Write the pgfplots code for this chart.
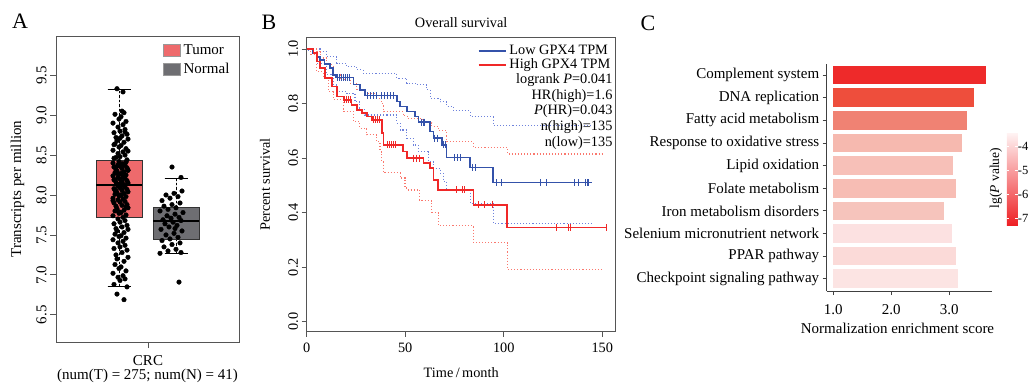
\documentclass[border=0pt]{standalone}
\usepackage{pgfplots}
\pgfplotsset{compat=1.18}
\usepgfplotslibrary{statistics}
\usepackage{fontspec}
\setmainfont{Liberation Serif}
\definecolor{tumorc}{RGB}{238,106,108}
\definecolor{normalc}{RGB}{110,110,114}
\definecolor{framec}{RGB}{85,85,85}
\definecolor{kmblue}{RGB}{52,82,170}
\definecolor{kmred}{RGB}{240,40,40}
\definecolor{ciblue}{RGB}{110,130,220}
\definecolor{cired}{RGB}{250,120,110}
\definecolor{cC}{RGB}{238,42,42}
\definecolor{cD}{RGB}{238,78,60}
\definecolor{cF}{RGB}{240,130,115}
\definecolor{cR}{RGB}{246,185,175}
\definecolor{cL}{RGB}{247,192,184}
\definecolor{cFo}{RGB}{247,189,180}
\definecolor{cI}{RGB}{246,196,188}
\definecolor{cS}{RGB}{252,225,225}
\definecolor{cP}{RGB}{251,218,216}
\definecolor{cK}{RGB}{252,228,227}
\newcommand\fsA{\fontsize{15pt}{17.5pt}\selectfont}
\newcommand\fsB{\fontsize{14.3pt}{15.6pt}\selectfont}
\newcommand\fsC{\fontsize{15pt}{18pt}\selectfont}
\newcommand\fsCb{\fontsize{12.5pt}{14pt}\selectfont}
\newcommand\fsL{\fontsize{22pt}{24pt}\selectfont}
\pgfplotsset{
  boxplot/draw/lower whisker/.code={%
    \draw[black, line width=0.7pt, dash pattern=on 2.5pt off 2pt]
      (boxplot cs:\pgfplotsboxplotvalue{lower quartile}) -- (boxplot cs:\pgfplotsboxplotvalue{lower whisker});
    \draw[black, line width=0.8pt, solid]
      (boxplot whisker cs:\pgfplotsboxplotvalue{lower whisker},0) -- (boxplot whisker cs:\pgfplotsboxplotvalue{lower whisker},1);
  },
  boxplot/draw/upper whisker/.code={%
    \draw[black, line width=0.7pt, dash pattern=on 2.5pt off 2pt]
      (boxplot cs:\pgfplotsboxplotvalue{upper quartile}) -- (boxplot cs:\pgfplotsboxplotvalue{upper whisker});
    \draw[black, line width=0.8pt, solid]
      (boxplot whisker cs:\pgfplotsboxplotvalue{upper whisker},0) -- (boxplot whisker cs:\pgfplotsboxplotvalue{upper whisker},1);
  },
}
\begin{document}
\begin{tikzpicture}[x=1pt,y=1pt]
\useasboundingbox (0,0) rectangle (1032,384);
\node[font=\fsL] at (20,363) {A};
\node[font=\fsL] at (269,362) {B};
\node[font=\fsL] at (648,361) {C};
% ---------------- Panel A
\begin{axis}[
  at={(56pt,348pt)}, anchor=north west, scale only axis,
  width=183pt, height=306pt,
  xmin=56, xmax=239, ymin=6.16, ymax=9.99,
  axis line style={framec, line width=0.8pt},
  tick style={framec, line width=0.8pt},
  tick align=outside, major tick length=6pt,
  xtick={148}, xticklabels={CRC},
  ytick={6.5,7,7.5,8,8.5,9,9.5},
  yticklabels={6.5,7.0,7.5,8.0,8.5,9.0,9.5},
  xtick pos=bottom, ytick pos=left,
  yticklabel style={rotate=90, anchor=south, font=\fsA},
  xticklabel style={font=\fsA, yshift=-4pt},
  ylabel={Transcripts per million},
  ylabel style={font=\fsA, at={(axis description cs:-0.21,0.5)}, anchor=center},
  xlabel={(num(T) = 275; num(N) = 41)},
  xlabel style={font=\fsA, at={(axis description cs:0.5,-0.112)}, anchor=center},
  boxplot/draw direction=y,
  legend image code/.code={\draw[#1] (0pt,-6pt) rectangle (17pt,6pt);},
  legend style={at={(axis description cs:0.585,0.977)}, anchor=north west,
    draw=none, fill=none, inner sep=0pt, font=\fsA, row sep=6pt,
    cells={anchor=west}, nodes={inner ysep=1pt, inner xsep=3pt}},
]
\addlegendimage{fill=tumorc, draw=black!40}
\addlegendentry{Tumor}
\addlegendimage{fill=normalc, draw=black!40}
\addlegendentry{Normal}
\addplot+[mark=none, boxplot prepared={draw position=119, lower whisker=6.85,
  lower quartile=7.725, median=8.125, upper quartile=8.43, upper whisker=9.32,
  box extend=46, whisker extend=23},
  solid, fill=tumorc, draw=black!80, line width=0.7pt,
  boxplot/every median/.style={black, line width=2pt}] coordinates {};
\addplot+[mark=none, boxplot prepared={draw position=176, lower whisker=7.27,
  lower quartile=7.45, median=7.68, upper quartile=7.84, upper whisker=8.21,
  box extend=46, whisker extend=23},
  solid, fill=normalc, draw=black!80, line width=0.7pt,
  boxplot/every median/.style={black, line width=2pt}] coordinates {};
% Tumor points
\addplot[forget plot, only marks, mark=*, mark size=2.3pt, black] table {
x y
124 6.69
117 6.76
127 6.85
114 6.88
120 6.93
125 6.95
118 6.97
123 6.99
113 7.02
126 7.05
119 7.08
121 7.10
115 7.13
124 7.17
117 7.20
128 7.22
116 7.25
122 7.28
127 7.31
114 7.33
120 7.35
125 7.37
118 7.40
123 7.42
113 7.44
126 7.46
119 7.48
121 7.49
115 7.51
124 7.53
117 7.55
128 7.57
116 7.58
122 7.60
127 7.62
114 7.64
120 7.66
125 7.68
118 7.70
123 7.72
113 7.74
126 7.75
119 7.77
121 7.78
115 7.80
124 7.81
117 7.83
128 7.84
116 7.86
122 7.87
127 7.88
114 7.90
120 7.91
125 7.92
118 7.94
123 7.95
113 7.96
126 7.98
119 7.99
121 8.00
115 8.01
124 8.02
117 8.03
128 8.04
116 8.05
122 8.06
127 8.07
114 8.08
120 8.09
125 8.10
118 8.11
123 8.12
113 7.93
126 7.85
119 7.79
121 8.00
115 8.06
124 8.13
117 8.14
128 8.15
116 8.16
122 8.17
127 8.18
114 8.19
120 8.20
125 8.21
118 8.22
123 8.23
113 8.24
126 8.25
119 8.26
121 8.27
115 8.28
124 8.29
117 8.30
128 8.31
116 8.32
122 8.33
127 8.34
114 8.35
120 8.36
125 8.37
118 8.38
123 8.39
113 8.40
126 8.41
119 8.42
121 8.15
115 8.19
124 8.23
117 8.27
128 8.31
116 8.35
122 8.39
127 8.44
114 8.46
120 8.48
125 8.50
118 8.52
123 8.54
113 8.56
126 8.58
119 8.60
121 8.62
115 8.64
124 8.66
117 8.68
128 8.70
116 8.72
122 8.74
127 8.76
114 8.78
120 8.80
125 8.82
118 8.85
123 8.88
113 8.90
126 8.92
119 8.95
121 8.98
115 9.01
124 9.03
117 9.33
123 9.29
122 9.05
116 8.47
128 8.55
114 8.63
120 8.71
125 8.79
};
% Normal points
\addplot[forget plot, only marks, mark=*, mark size=2.3pt, black] table {
x y
179 6.91
160 7.27
181 7.28
168 7.30
176 7.32
164 7.35
172 7.38
180 7.40
162 7.43
170 7.45
178 7.47
166 7.50
174 7.52
182 7.55
161 7.57
169 7.60
177 7.62
165 7.64
173 7.66
181 7.68
163 7.69
171 7.71
179 7.72
167 7.74
175 7.76
183 7.78
160 7.80
168 7.82
176 7.84
164 7.86
172 7.88
180 7.90
162 7.93
170 7.96
178 7.98
166 8.00
174 8.02
182 8.05
181 8.22
172 8.35
175 7.58
};
\end{axis}
% ---------------- Panel B
\begin{axis}[
  at={(306.7pt,346.7pt)}, anchor=north west, scale only axis,
  width=309pt, height=294.4pt,
  xmin=0, xmax=156.8, ymin=-0.037, ymax=1.043,
  axis line style={framec, line width=0.8pt},
  tick style={framec, line width=0.8pt},
  tick align=outside, major tick length=5pt,
  xtick={0,50,100,150}, xticklabels={0,50,100,150},
  ytick={0,0.2,0.4,0.6,0.8,1}, yticklabels={0.0,0.2,0.4,0.6,0.8,1.0},
  xtick pos=bottom, ytick pos=left,
  yticklabel style={rotate=90, anchor=south, font=\fsB},
  xticklabel style={font=\fsB, yshift=-3pt},
  title={Overall survival},
  title style={font=\fsB, at={(axis description cs:0.5,1.031)}, anchor=center},
  ylabel={Percent survival},
  ylabel style={font=\fsB, at={(axis description cs:-0.135,0.5)}, anchor=center},
  xlabel={Time\,/\,month},
  xlabel style={font=\fsB, at={(axis description cs:0.5,-0.139)}, anchor=center},
  legend image code/.code={\draw[#1] (0pt,0pt) -- (27pt,0pt);},
  legend style={at={(axis description cs:0.993,0.977)}, anchor=north east,
    draw=none, fill=none, inner sep=0pt, font=\fsB, row sep=0pt,
    cells={anchor=west}, nodes={inner ysep=1pt, inner xsep=3pt, text height=9pt, text depth=3pt}},
]
% confidence bands (dotted)
\addplot[forget plot, const plot, ciblue, line width=1.1pt, dash pattern=on 1.1pt off 2pt] coordinates {
(0,1.0) (3.4,1.0) (6.8,0.99) (10.2,0.972) (15.2,0.948) (20.3,0.936) (25.4,0.924) (28.7,0.911)
(45.7,0.893) (50.8,0.875) (55.8,0.869) (60.9,0.85) (62.6,0.82) (67.7,0.807) (71.1,0.789)
(74.4,0.773) (82.9,0.752) (94.7,0.72) (144.7,0.72)};
\addplot[forget plot, const plot, ciblue, line width=1.1pt, dash pattern=on 1.1pt off 2pt] coordinates {
(0,1.0) (1,0.99) (5.1,0.948) (10.2,0.905) (13.5,0.869) (15.2,0.844) (20.3,0.838) (24.5,0.807)
(27,0.777) (29.6,0.758) (45.7,0.728) (47.4,0.703) (50.8,0.673) (54.1,0.648) (56.7,0.624)
(61.7,0.587) (64.3,0.563) (67.7,0.545) (69.5,0.514) (71,0.48) (82.9,0.434) (94.7,0.361) (144.7,0.361)};
\addplot[forget plot, const plot, cired, line width=1.1pt, dash pattern=on 1.1pt off 2pt] coordinates {
(0,1.0) (4,1.0) (5.1,0.99) (6.8,0.967) (10.2,0.942) (13.5,0.905) (16.9,0.887) (22,0.875)
(25.4,0.85) (29.6,0.838) (35.5,0.82) (38,0.80) (39,0.77) (47.4,0.77) (49,0.755) (51,0.745)
(57,0.745) (59,0.73) (63.5,0.715) (66.8,0.70) (71,0.66) (84.6,0.64) (101.8,0.615) (150,0.615)};
\addplot[forget plot, const plot, cired, line width=1.1pt, dash pattern=on 1.1pt off 2pt] coordinates {
(0,1.0) (2,0.98) (5.1,0.917) (8.4,0.893) (11,0.844) (13.5,0.814) (18.6,0.771) (23.7,0.734)
(27,0.71) (30.5,0.685) (35.5,0.66) (37.2,0.624) (38,0.587) (38.9,0.546) (47.4,0.527)
(49.9,0.49) (50.8,0.483) (57.4,0.443) (63.5,0.40) (66.8,0.352) (84.6,0.29) (101.8,0.192) (150,0.192)};
% main curves
\addplot[forget plot, const plot, kmblue, line width=1.7pt] coordinates {
(0,1.0) (3,0.985) (5,0.97) (6.8,0.96) (9,0.945) (11.8,0.93) (13.5,0.905) (15,0.895)
(23.7,0.87) (27,0.85) (29.6,0.829) (45.7,0.807) (47.4,0.789) (50.8,0.771) (55,0.752)
(56.7,0.732) (62.6,0.697) (64.3,0.673) (68.5,0.648) (71,0.602) (82.9,0.565) (94.7,0.51) (144.7,0.51)};
\addplot[forget plot, const plot, kmred, line width=1.7pt] coordinates {
(0,1.0) (3.4,0.985) (5.1,0.954) (6.8,0.93) (9.3,0.893) (12.7,0.862) (15.2,0.826) (18.6,0.814)
(22.8,0.795) (25.4,0.777) (27.9,0.765) (30.5,0.752) (33,0.74) (38.1,0.691) (38.9,0.648)
(49,0.624) (50.8,0.6) (59.2,0.581) (62.6,0.563) (64.3,0.52) (66.8,0.483) (84.6,0.428)
(101.8,0.345) (152,0.345)};
% censor marks
\addplot[forget plot, only marks, mark=|, mark size=3.5pt, kmblue, mark options={line width=0.9pt}] coordinates {
(15.8,0.895) (16.8,0.895) (17.8,0.895) (18.8,0.895) (19.8,0.895) (20.8,0.895) (21.8,0.895)
(31,0.829) (32.5,0.829) (34,0.829) (35.5,0.829) (38,0.829) (39.5,0.829) (41,0.829) (42.5,0.829) (43.8,0.829)
(58,0.732) (59,0.732) (60,0.732) (65,0.673) (66.5,0.673) (69.3,0.648) (70.3,0.648)
(75,0.602) (76.5,0.602) (78,0.602) (84.2,0.565) (85.6,0.565)
(96.4,0.51) (99,0.51) (118.8,0.51) (121.5,0.51) (135.9,0.51) (137.9,0.51) (141.3,0.51) (142.3,0.51) (143.2,0.51)};
\addplot[forget plot, only marks, mark=|, mark size=3.5pt, kmred, mark options={line width=0.9pt}] coordinates {
(19.3,0.814) (20.3,0.814) (21.3,0.814) (22.2,0.814)
(34,0.74) (35,0.74) (36,0.74) (37,0.74)
(41,0.648) (42,0.648) (43,0.648) (44,0.648) (45,0.648)
(54,0.6) (55.5,0.6) (57,0.6)
(76,0.483) (79,0.483) (80,0.483)
(87,0.428) (90,0.428) (94,0.428)
(126.5,0.345) (132.8,0.345) (133.7,0.345) (152,0.345)};
\addlegendimage{kmblue, line width=1.7pt}
\addlegendentry{Low GPX4 TPM}
\addlegendimage{kmred, line width=1.7pt}
\addlegendentry{High GPX4 TPM}
\node[anchor=north east, align=right, font=\fsB, inner sep=0pt]
  at (axis description cs:0.99,0.877)
  {logrank \textit{P}=0.041\\HR(high)=1.6\\\textit{P}(HR)=0.043\\n(high)=135\\n(low)=135};
\end{axis}
% ---------------- Panel C
\begin{axis}[
  at={(826.7pt,320pt)}, anchor=north west, scale only axis,
  width=165pt, height=227pt,
  xmin=-0.114, xmax=2.731, ymin=-0.54, ymax=9.49,
  x filter/.expression={x-1},
  axis x line*=bottom, axis y line*=left,
  axis line style={black!75, line width=0.8pt, -},
  tick style={black!75, line width=0.8pt},
  tick align=outside, major tick length=4pt,
  xtick={0,1,2}, xticklabels={1.0,2.0,3.0},
  ytick={0,1,2,3,4,5,6,7,8,9},
  yticklabels={Checkpoint signaling pathway, PPAR pathway, Selenium micronutrient network,
    Iron metabolism disorders, Folate metabolism, Lipid oxidation,
    Response to oxidative stress, Fatty acid metabolism, DNA replication, Complement system},
  yticklabel style={font=\fsC},
  xticklabel style={font=\fsC, yshift=-6pt},
  xlabel={Normalization enrichment score},
  xlabel style={font=\fsC, at={(axis description cs:0.429,-0.164)}, anchor=center},
  xbar, bar width=18.7pt, bar shift=0pt,
  colormap={pv}{rgb255=(238,32,36) rgb255=(255,244,244)},
  colorbar right,
  point meta min=-7.28, point meta max=-3.45,
  colorbar style={
    at={(parent axis.north east)}, anchor=north west, xshift=6.5pt, yshift=-68.7pt,
    width=11pt, height=92.3pt,
    ytick={-7,-6,-5,-4}, yticklabels={-7,-6,-5,-4},
    yticklabel style={font=\fsCb, inner sep=1pt, xshift=-1pt},
    axis line style={draw=none},
    major tick length=2.5pt, tick style={white, line width=0.6pt},
  },
]
\addplot[fill=cC, draw=none] coordinates {(3.63,9)};
\addplot[fill=cD, draw=none] coordinates {(3.42,8)};
\addplot[fill=cF, draw=none] coordinates {(3.30,7)};
\addplot[fill=cR, draw=none] coordinates {(3.22,6)};
\addplot[fill=cL, draw=none] coordinates {(3.06,5)};
\addplot[fill=cFo, draw=none] coordinates {(3.12,4)};
\addplot[fill=cI, draw=none] coordinates {(2.90,3)};
\addplot[fill=cS, draw=none] coordinates {(3.04,2)};
\addplot[fill=cP, draw=none] coordinates {(3.12,1)};
\addplot[fill=cK, draw=none] coordinates {(3.15,0)};
\end{axis}
\node[rotate=90, font=\fontsize{13.5pt}{15pt}\selectfont] at (996,206) {lg(\textit{P} value)};
\end{tikzpicture}
\end{document}
